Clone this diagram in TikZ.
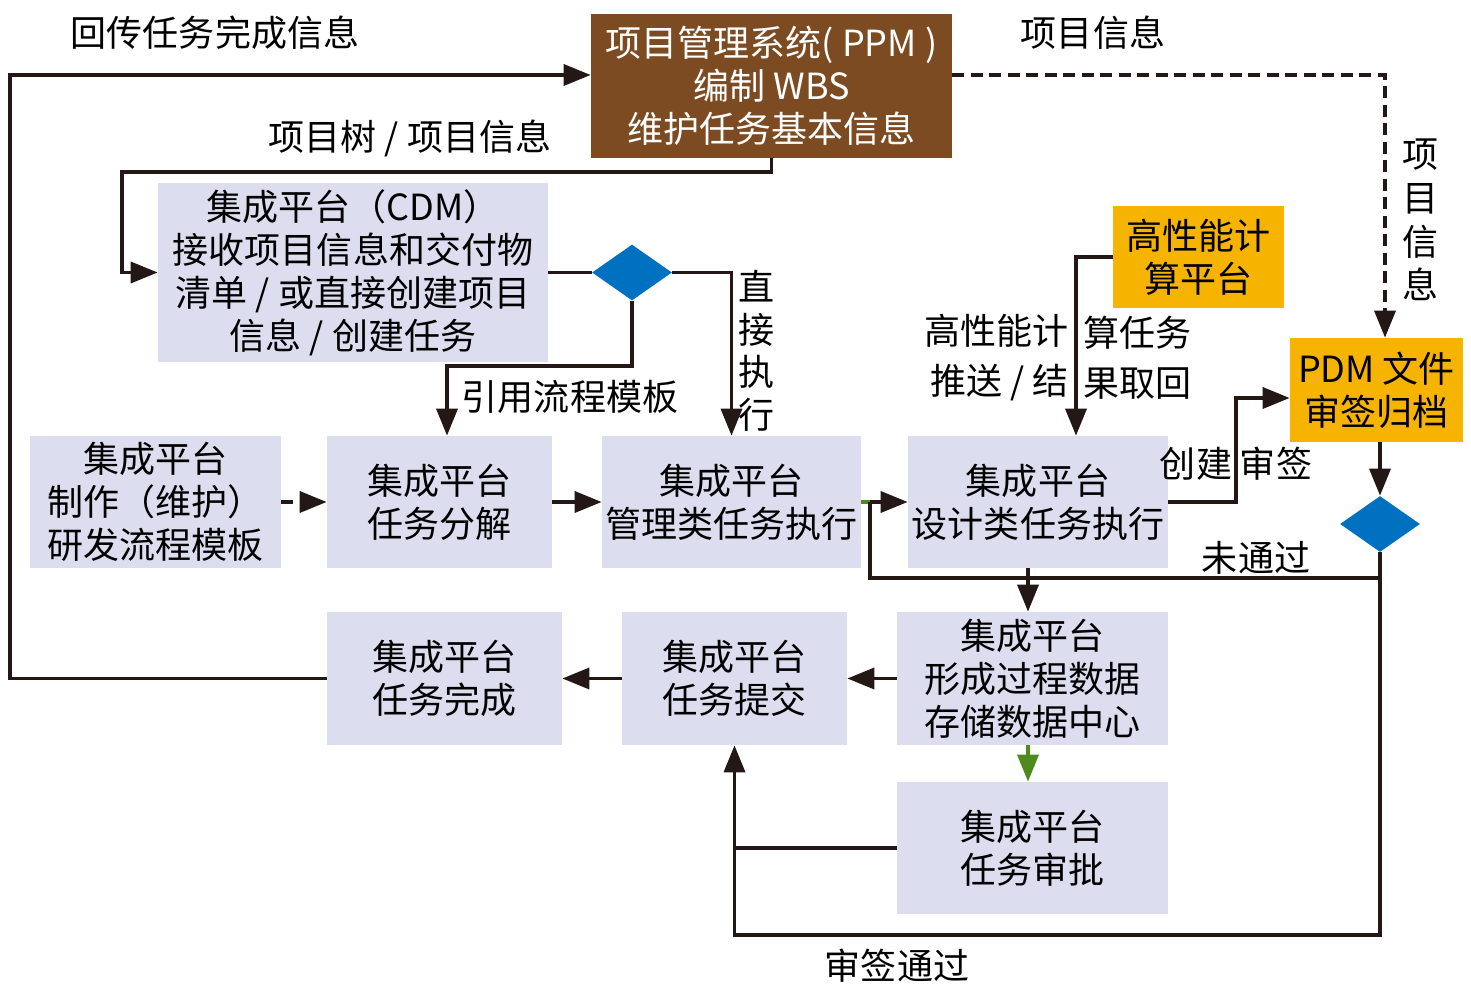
\documentclass[tikz,border=0pt]{standalone}
\usepackage{fontspec}
\setmainfont{Noto Sans CJK SC}
\usetikzlibrary{arrows.meta,shapes.geometric}
\definecolor{ppmbrown}{HTML}{7C4B22}
\definecolor{boxlav}{HTML}{DDDDF0}
\definecolor{decblue}{HTML}{0071C1}
\definecolor{hpcorange}{HTML}{F6B400}
\definecolor{okgreen}{HTML}{4E8A1E}
\definecolor{linedark}{HTML}{231815}
\tikzset{
  txt/.style={font=\fontsize{20.5}{24.5}\selectfont, inner sep=0pt, align=center},
  box/.style={txt, fill=boxlav},
  obox/.style={txt, fill=hpcorange},
  dec/.style={diamond, fill=decblue, inner sep=0pt, minimum width=1.6cm, minimum height=1.12cm},
  ln/.style={line width=0.07cm, draw=linedark},
  arr/.style={ln, -{Triangle[length=0.54cm,width=0.42cm]}},
  dsh/.style={dash pattern=on 0.24cm off 0.13cm},
}
\begin{document}
\begin{tikzpicture}[x=0.02cm,y=-0.02cm]
\useasboundingbox (0,0) rectangle (1471,996);
\node[txt, fill=ppmbrown, text=white, minimum width=7.22cm, minimum height=2.88cm] (ppm) at (771.5,86) {项目管理系统( PPM )\\编制 WBS\\维护任务基本信息};
\node[box, minimum width=7.8cm, minimum height=3.58cm] (cdm) at (353,272.5) {集成平台（CDM）\\接收项目信息和交付物\\清单 / 或直接创建项目\\信息 / 创建任务};
\node[dec] (dia1) at (632,272.5) {};
\node[box, minimum width=5.02cm, minimum height=2.64cm] (tmpl) at (155.5,502) {集成平台\\制作（维护）\\研发流程模板};
\node[box, minimum width=4.5cm, minimum height=2.64cm] (decomp) at (439.5,502) {集成平台\\任务分解};
\node[box, minimum width=5.18cm, minimum height=2.64cm] (mgmt) at (731.5,502) {集成平台\\管理类任务执行};
\node[box, minimum width=5.2cm, minimum height=2.64cm] (design) at (1038,502) {集成平台\\设计类任务执行};
\node[obox, minimum width=3.42cm, minimum height=2.04cm] (hpc) at (1198.5,257) {高性能计\\算平台};
\node[obox, minimum width=3.46cm, minimum height=2.08cm] (pdm) at (1376.5,390) {PDM 文件\\审签归档};
\node[dec] (dia2) at (1380,524) {};
\node[box, minimum width=5.42cm, minimum height=2.66cm] (store) at (1032.5,678.5) {集成平台\\形成过程数据\\存储数据中心};
\node[box, minimum width=4.5cm, minimum height=2.66cm] (submit) at (734.5,678.5) {集成平台\\任务提交};
\node[box, minimum width=4.7cm, minimum height=2.66cm] (done) at (444.5,678.5) {集成平台\\任务完成};
\node[box, minimum width=5.42cm, minimum height=2.64cm] (approve) at (1032.5,848) {集成平台\\任务审批};

\node[txt] (lback) at (215,33) {回传任务完成信息};
\node[txt] (linfo) at (1093,33) {项目信息};
\node[txt] (ltree) at (410,138) {项目树 / 项目信息};
\node[txt, font=\fontsize{20.5}{22}\selectfont] (linfov) at (1420,220) {项\\[0.1cm]目\\[0.1cm]信\\[0.1cm]息};
\node[txt, font=\fontsize{20.5}{22}\selectfont] (ldirect) at (757,351) {直\\[0.08cm]接\\[0.08cm]执\\[0.08cm]行};
\node[txt] (lref) at (570,397) {引用流程模板};
\node[txt, align=right, anchor=east] (lhpcl) at (1069,358) {高性能计\\[0.14cm]推送 / 结};
\node[txt, align=left, anchor=west] (lhpcr) at (1083,358) {算任务\\[0.14cm]果取回};
\node[txt] (lcreate) at (1196,464) {创建};
\node[txt] (lsign) at (1276,464) {审签};
\node[txt] (lfail) at (1256,558) {未通过};
\node[txt] (lpass) at (897,966) {审签通过};

\coordinate (loopL) at (10,75);
\coordinate (treeL) at (122,172);
\coordinate (tplbend) at (447,366);
\coordinate (failL) at (870,578);
\coordinate (passB) at (1380,935);
\coordinate (hpcbend) at (1076,257);
\coordinate (crbend) at (1236,398);
\draw[arr] (done.west) -| (loopL) -- (ppm.west |- loopL);
\draw[arr, dsh] (ppm.east |- loopL) -| ([xshift=0.17cm]pdm.north);
\draw[arr] (ppm.south) |- (treeL) |- (cdm.west);
\draw[ln] (cdm.east) -- (dia1.west);
\draw[arr] (dia1.east) -| (mgmt.north);
\draw[arr] (dia1.south) |- (tplbend) -- (tplbend |- decomp.north);
\draw[arr, dsh] (tmpl.east) -- (decomp.west);
\draw[arr] (decomp.east) -- (mgmt.west);
\draw[ln, draw=okgreen] (mgmt.east) -- (failL |- mgmt.east);
\draw[arr] (failL |- mgmt.east) -- (design.west);
\draw[ln] (dia2.south |- failL) -- (failL) -- (failL |- mgmt.east);
\draw[arr] (hpc.west) -- (hpcbend) -- (hpcbend |- design.north);
\draw[arr] (design.east) -| (crbend) -- (crbend -| pdm.west);
\draw[arr] (dia2.north |- pdm.south) -- (dia2.north);
\draw[arr] (dia2.south) -- (passB) -| (submit.south);
\draw[arr] ([xshift=-0.09cm]store.north |- design.south) -- ([xshift=-0.09cm]store.north);
\draw[arr, draw=okgreen, fill=okgreen] ([xshift=-0.09cm]store.south) -- ([xshift=-0.09cm]approve.north);
\draw[ln] (approve.west) -- (submit.south |- approve.west);
\draw[arr] (store.west) -- (submit.east);
\draw[arr] (submit.west) -- (done.east);
\end{tikzpicture}
\end{document}
